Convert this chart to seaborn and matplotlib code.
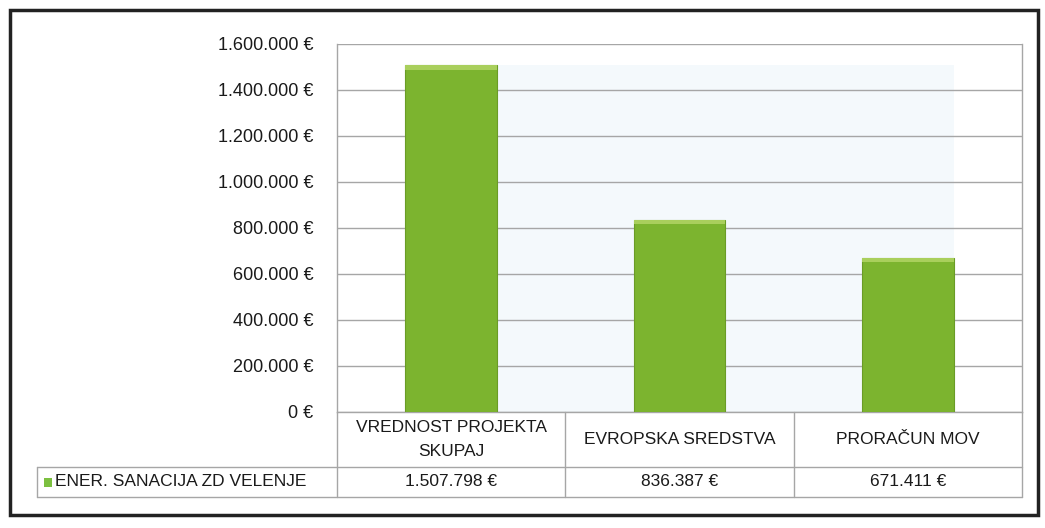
import numpy as np
import pandas as pd
import matplotlib
matplotlib.use('Agg')
import matplotlib.pyplot as plt
import seaborn as sns
from matplotlib.patches import Rectangle
from matplotlib.ticker import FuncFormatter

# Data
categories = ['VREDNOST PROJEKTA\nSKUPAJ', 'EVROPSKA SREDSTVA', 'PRORAČUN MOV']
values = [1507798, 836387, 671411]
value_labels = ['1.507.798 €', '836.387 €', '671.411 €']
series_name = 'ENER. SANACIJA ZD VELENJE'
yticks = [0, 200000, 400000, 600000, 800000, 1000000, 1200000, 1400000, 1600000]

df = pd.DataFrame({'cat': categories, 'val': values})

sns.set_style('white')
plt.rcParams['font.family'] = ['Liberation Sans', 'DejaVu Sans']

W, H = 1045, 528
fig = plt.figure(figsize=(W / 100, H / 100), dpi=100)
ax = fig.add_axes([337 / W, 1 - 412 / H, (1022 - 337) / W, (412 - 44) / H])

GREEN = '#7cb42f'
GRID = '#a6a6a6'

sns.barplot(data=df, x='cat', y='val', color=GREEN, width=0.4, saturation=1,
            ax=ax, zorder=3, edgecolor='#6a9c26', linewidth=0.8)
ax.set_xlim(-0.5, 2.5)

# faint back wall behind bars
ax.axvspan(0.2, 2.2, ymin=0, ymax=values[0] / yticks[-1], color='#f4f9fc', zorder=0, lw=0)

# lighter top strip on each bar
for p in list(ax.patches):
    if isinstance(p, Rectangle) and p.get_height() > 0 and p.get_width() < 1:
        h = p.get_height()
        ax.add_patch(Rectangle((p.get_x(), h - 20000), p.get_width(), 20000,
                               color='#a9cf5c', zorder=4, lw=0))

ax.set_ylim(0, 1600000)
ax.set_yticks(yticks)
ax.yaxis.set_major_formatter(FuncFormatter(lambda v, _: f'{int(v):,} €'.replace(',', '.')))
ax.tick_params(axis='y', length=0, pad=17, labelsize=13, colors='#1a1a1a')
ax.set_xticks([])
ax.set_xlabel('')
ax.set_ylabel('')
ax.grid(axis='y', color=GRID, lw=1, zorder=1)
for s in ax.spines.values():
    s.set_color(GRID)
    s.set_linewidth(1)
ax.spines['top'].set_visible(False)

# data table under the chart
row1_bot = -(467 - 412) / (412 - 44)
row2_bot = -(497 - 412) / (412 - 44)
x_left = (37 - 337) / (1022 - 337)
tr = ax.transAxes
line_kw = dict(color=GRID, lw=1, transform=tr, clip_on=False)
ax.plot([0, 0], [0, row2_bot], **line_kw)
for i in range(1, 4):
    ax.plot([i / 3, i / 3], [0, row2_bot], **line_kw)
ax.plot([x_left, 1], [row1_bot, row1_bot], **line_kw)
ax.plot([x_left, 1], [row2_bot, row2_bot], **line_kw)
ax.plot([x_left, x_left], [row1_bot, row2_bot], **line_kw)

for i, (c, v) in enumerate(zip(categories, value_labels)):
    xc = (i + 0.5) / 3
    ax.text(xc, row1_bot / 2, c, transform=tr, ha='center', va='center',
            fontsize=12.5, color='#1a1a1a', linespacing=1.75)
    ax.text(xc, (row1_bot + row2_bot) / 2, v, transform=tr, ha='center', va='center',
            fontsize=12.5, color='#1a1a1a')

# legend key + series name
key_w = 8 / (1022 - 337)
key_h = 9 / (412 - 44)
ymid = (row1_bot + row2_bot) / 2
ax.add_patch(Rectangle((x_left + 7 / 685, ymid - key_h / 2), key_w, key_h,
                       transform=tr, clip_on=False, color='#7cc040', lw=0))
ax.text(x_left + 18 / 685, ymid, series_name, transform=tr, ha='left', va='center',
        fontsize=12.5, color='#1a1a1a')

# outer frame
fig.patches.append(Rectangle((10 / W, 1 - 515 / H), (1038 - 10) / W, (515 - 10) / H,
                             transform=fig.transFigure, fill=False, ec='#222222', lw=2.5))

fig.savefig('out.png', dpi=100, facecolor='white')
